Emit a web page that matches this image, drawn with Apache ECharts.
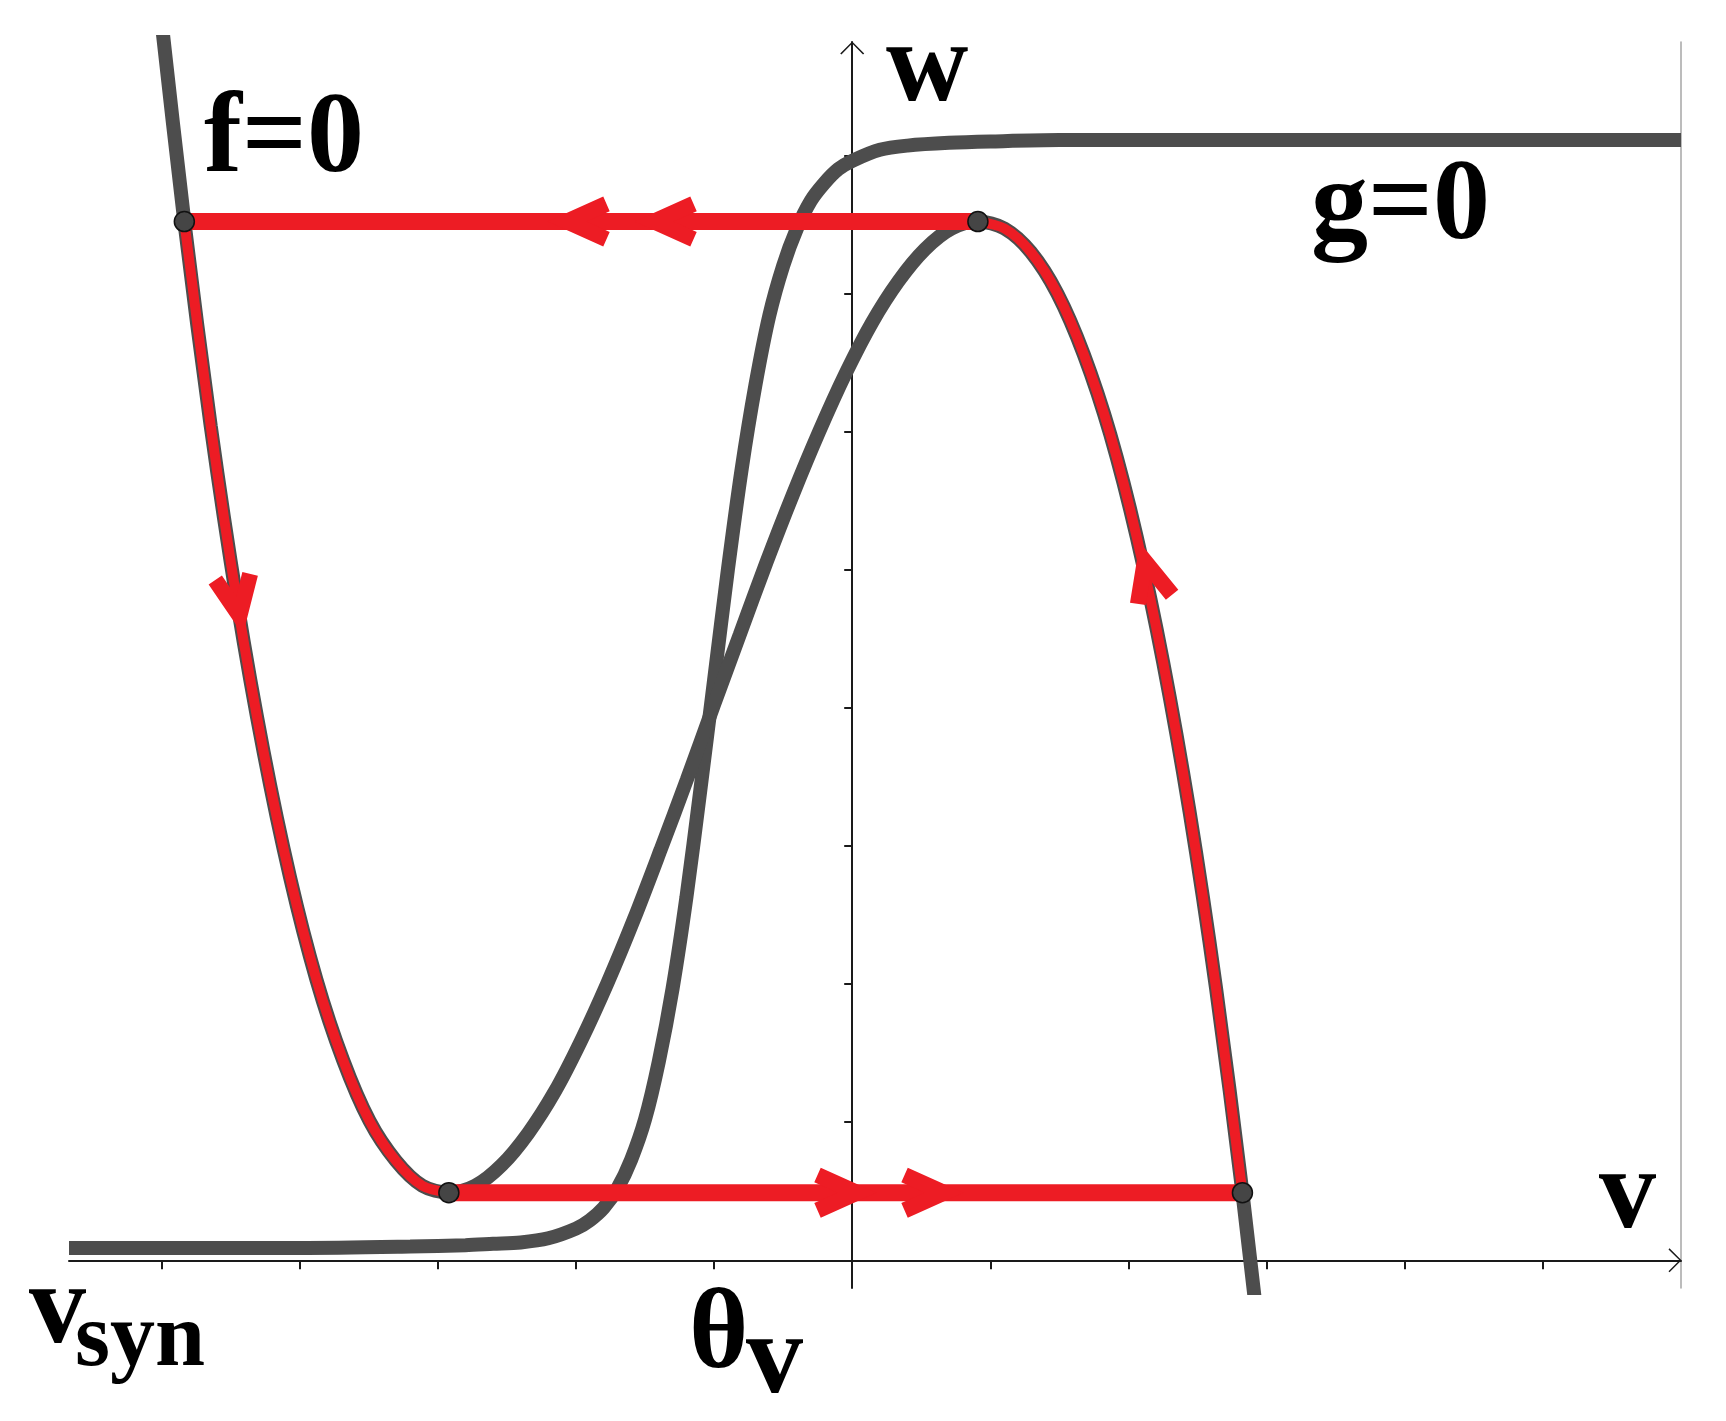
<!DOCTYPE html>
<html>
<head>
<meta charset="utf-8">
<title>f=0 / g=0 nullclines</title>
<script src="https://cdn.jsdelivr.net/npm/echarts@6/dist/echarts.min.js"></script>
<style>
    html, body { margin: 0; padding: 0; background: #ffffff; }
    #main { width: 1726px; height: 1421px; }
</style>
</head>
<body>
<div id="main"></div>
<script>
// f = 0 nullcline (cubic)
var fV = [-5.027, -4.835, -4.644, -4.452, -4.261, -4.069, -3.878, -3.686, -3.495, -3.303, -3.112,
    -2.920, -2.729, -2.537, -2.346, -2.154, -1.963, -1.771, -1.580, -1.388, -1.197,
    -1.005, -0.814, -0.622, -0.431, -0.239, -0.048, 0.144, 0.336, 0.527, 0.719,
    0.910, 1.102, 1.293, 1.485, 1.676, 1.868, 2.059, 2.251, 2.442, 2.634, 2.825, 3.017];
var fW = [9.21, 7.52, 6.04, 4.76, 3.68, 2.77, 2.03, 1.45, 1.01, 0.72, 0.54,
    0.49, 0.54, 0.69, 0.92, 1.22, 1.59, 2.01, 2.47, 2.97, 3.48,
    4.01, 4.53, 5.05, 5.54, 6.00, 6.42, 6.79, 7.09, 7.32, 7.47,
    7.52, 7.47, 7.30, 7.00, 6.56, 5.98, 5.24, 4.33, 3.25, 1.97, 0.49, -1.20];

// g = 0 nullcline (sigmoid)
var gV = [-5.67, -4.0, -3.2, -2.8, -2.6, -2.4, -2.2, -2.0, -1.9, -1.8, -1.7, -1.6, -1.5, -1.4,
    -1.3, -1.2, -1.1, -1.0, -0.9, -0.8, -0.7, -0.6, -0.5, -0.4, -0.3, -0.2, -0.1,
    0.0, 0.2, 0.4, 0.7, 1.0, 1.5, 6.0];
var gW = [0.09, 0.09, 0.10, 0.11, 0.12, 0.13, 0.16, 0.23, 0.29, 0.38, 0.52, 0.73, 1.02, 1.44,
    1.97, 2.63, 3.40, 4.20, 5.00, 5.73, 6.34, 6.84, 7.20, 7.47, 7.67, 7.80, 7.90,
    7.96, 8.04, 8.07, 8.09, 8.10, 8.11, 8.11];

// jumps of the trajectory (fast horizontal parts)
var topJumpV = [-4.835, 0.910];
var topJumpW = [7.52, 7.52];
var bottomJumpV = [-2.920, 2.825];
var bottomJumpW = [0.49, 0.49];

// knees / landing points
var cornerV = [-4.835, 0.910, -2.920, 2.825];
var cornerW = [7.52, 7.52, 0.49, 0.49];

// arrow heads: centre and direction (deg, 0 = pointing up)
var arrowV = [-1.98, -1.35, -0.05, 0.58, -4.45, 2.14];
var arrowW = [7.52, 7.52, 0.49, 0.49, 4.75, 4.98];
var arrowDir = [90, 90, -90, -90, 190, 15];

var xTicks = [-5, -4, -3, -2, -1, 1, 2, 3, 4, 5];
var yTicks = [1, 2, 3, 4, 5, 6, 7, 8];

function pairs(xs, ys) {
    var out = [];
    for (var i = 0; i < xs.length; i++) {
        out.push([xs[i], ys[i]]);
    }
    return out;
}

var GRAY = '#4d4d4d';
var RED = '#ed1c24';
var SERIF = '"Liberation Serif", "Times New Roman", serif';
var AXIS_ARROW = 'path://M0,12 L12,0 L24,12 L22.8,13 L12,2 L1.2,13 Z';
var CHEVRON = 'path://M25,0 L50,56 L35.4,62.5 L25,39.2 L14.6,62.5 L0,56 Z';

var fData = pairs(fV, fW);
var arrowData = [];
for (var i = 0; i < arrowV.length; i++) {
    arrowData.push({ value: [arrowV[i], arrowW[i]], symbolRotate: arrowDir[i] });
}

// text is placed by its baseline
function label(text, x, baseline, size) {
    return {
        type: 'text',
        x: x,
        y: baseline - 0.27 * size,
        z: 100,
        style: {
            text: text,
            font: 'bold ' + size + 'px ' + SERIF,
            fill: '#000000',
            align: 'left',
            verticalAlign: 'middle'
        }
    };
}

var myChart = echarts.init(document.getElementById('main'));

var option = {
    animation: false,
    backgroundColor: '#ffffff',
    grid: { left: 69, right: 45, top: 42, bottom: 133 },
    xAxis: {
        type: 'value',
        min: -5.67,
        max: 6,
        axisLine: {
            onZero: true,
            onZeroAxisIndex: 0,
            symbol: ['none', AXIS_ARROW],
            symbolSize: [24, 13],
            symbolOffset: [0, -6],
            lineStyle: { color: '#1a1a1a', width: 2 }
        },
        axisTick: { show: true, customValues: xTicks, length: 9, lineStyle: { color: '#1a1a1a', width: 2 } },
        axisLabel: { show: false },
        splitLine: { show: false }
    },
    yAxis: [
        {
            type: 'value',
            min: -0.2,
            max: 8.82,
            axisLine: {
                onZero: true,
                symbol: ['none', AXIS_ARROW],
                symbolSize: [24, 13],
                symbolOffset: [0, -6],
                lineStyle: { color: '#1a1a1a', width: 2 }
            },
            axisTick: { show: true, customValues: yTicks, length: 8, lineStyle: { color: '#1a1a1a', width: 2 } },
            axisLabel: { show: false },
            splitLine: { show: false }
        },
        {
            type: 'value',
            position: 'right',
            min: -0.2,
            max: 8.82,
            axisLine: { show: true, onZero: false, lineStyle: { color: '#a6a6a6', width: 1.5 } },
            axisTick: { show: false },
            axisLabel: { show: false },
            splitLine: { show: false }
        }
    ],
    series: [
        {
            name: 'g=0',
            type: 'line',
            data: pairs(gV, gW),
            smooth: 0.3,
            showSymbol: false,
            lineStyle: { color: GRAY, width: 14 },
            z: 2
        },
        {
            name: 'f=0',
            type: 'line',
            data: fData,
            smooth: 0.3,
            showSymbol: false,
            lineStyle: { color: GRAY, width: 14 },
            z: 2
        },
        {
            name: 'slow left',
            type: 'line',
            data: fData.slice(1, 12),
            smooth: 0.3,
            showSymbol: false,
            lineStyle: { color: RED, width: 10 },
            z: 3
        },
        {
            name: 'slow right',
            type: 'line',
            data: fData.slice(31, 42),
            smooth: 0.3,
            showSymbol: false,
            lineStyle: { color: RED, width: 10 },
            z: 3
        },
        {
            name: 'jump top',
            type: 'line',
            data: pairs(topJumpV, topJumpW),
            showSymbol: false,
            lineStyle: { color: RED, width: 17 },
            z: 3
        },
        {
            name: 'jump bottom',
            type: 'line',
            data: pairs(bottomJumpV, bottomJumpW),
            showSymbol: false,
            lineStyle: { color: RED, width: 17 },
            z: 3
        },
        {
            name: 'arrows',
            type: 'scatter',
            data: arrowData,
            symbol: CHEVRON,
            symbolSize: [50, 62],
            itemStyle: { color: RED, opacity: 1 },
            z: 4
        },
        {
            name: 'corners',
            type: 'scatter',
            data: pairs(cornerV, cornerW),
            symbol: 'circle',
            symbolSize: 20,
            itemStyle: { color: '#454545', borderColor: '#111111', borderWidth: 1.5, opacity: 1 },
            z: 5
        }
    ],
    graphic: [
        label('f=0', 204, 172, 114),
        label('w', 886, 101, 114),
        label('g=0', 1311, 239, 114),
        label('v', 1599, 1228, 114),
        label('v', 29, 1343, 114),
        label('syn', 75, 1366, 90),
        label('\u03b8', 689, 1368, 114),
        label('v', 746, 1393, 114)
    ]
};

if (option && typeof option === "object") {
    myChart.setOption(option, true);
}
</script>
</body>
</html>
